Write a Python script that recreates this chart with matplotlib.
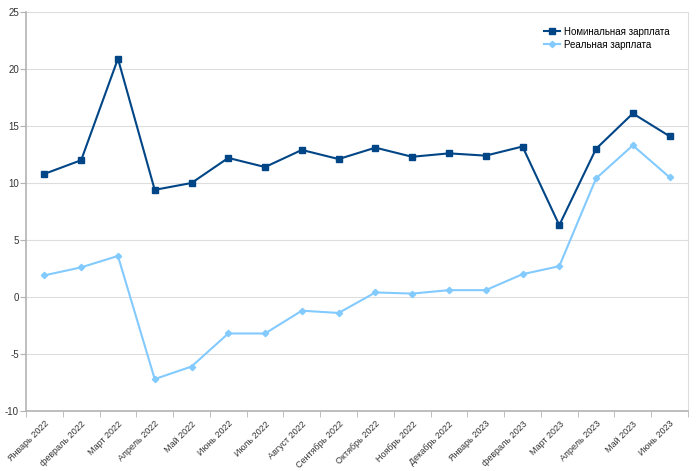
import matplotlib.pyplot as plt
import numpy as np

plt.rcParams['font.family'] = ['Liberation Sans', 'DejaVu Sans']
plt.rcParams['axes.unicode_minus'] = False

months = ['Январь 2022', 'февраль 2022', 'Март 2022', 'Апрель 2022', 'Май 2022',
          'Июнь 2022', 'Июль 2022', 'Август 2022', 'Сентябрь 2022', 'Октябрь 2022',
          'Ноябрь 2022', 'Декабрь 2022', 'Январь 2023', 'февраль 2023', 'Март 2023',
          'Апрель 2023', 'Май 2023', 'Июнь 2023']
nominal = [10.8, 12.0, 20.9, 9.4, 10.0, 12.2, 11.4, 12.9, 12.1, 13.1,
           12.3, 12.6, 12.4, 13.2, 6.3, 13.0, 16.1, 14.1]
real = [1.9, 2.6, 3.6, -7.2, -6.1, -3.2, -3.2, -1.2, -1.4, 0.4,
        0.3, 0.6, 0.6, 2.0, 2.7, 10.4, 13.3, 10.5]

fig = plt.figure(figsize=(7, 4.71), dpi=100)
ax = fig.add_axes([26 / 700, 60 / 471, 662 / 700, 399 / 471])

x = np.arange(len(months))
ax.plot(x, nominal, color='#004586', lw=1.5, marker='s', ms=5, label='Номинальная зарплата')
ax.plot(x, real, color='#83caff', lw=1.5, marker='D', ms=3.2, label='Реальная зарплата')

ax.set_xlim(-0.5, len(months) - 0.5)
ax.set_ylim(-10, 25)
ax.set_yticks(range(-10, 26, 5))
ax.yaxis.grid(True, color='#dddddd', lw=0.8)
ax.set_axisbelow(True)

ax.set_xticks(x)
ax.set_xticklabels(months, rotation=45, ha='right', rotation_mode='anchor', fontsize=6.5, color='#333333')
ax.set_xticks(np.arange(-0.5, len(months), 1), minor=True)
ax.tick_params(axis='x', which='major', length=0, pad=6)
ax.tick_params(axis='x', which='minor', length=4, color='#b3b3b3')
ax.tick_params(axis='y', length=4, color='#b3b3b3', labelsize=7, labelcolor='#333333', pad=1)

ax.spines['top'].set_visible(False)
ax.spines['right'].set_color('#dddddd')
ax.spines['right'].set_linewidth(0.8)
for s in ['left', 'bottom']:
    ax.spines[s].set_color('#b3b3b3')
    ax.spines[s].set_linewidth(1.2)

ax.legend(loc='upper right', bbox_to_anchor=(0.985, 0.985), frameon=False, fontsize=7,
          handlelength=1.6, handletextpad=0.4, labelspacing=0.3)

fig.savefig('out.png', dpi=100)
